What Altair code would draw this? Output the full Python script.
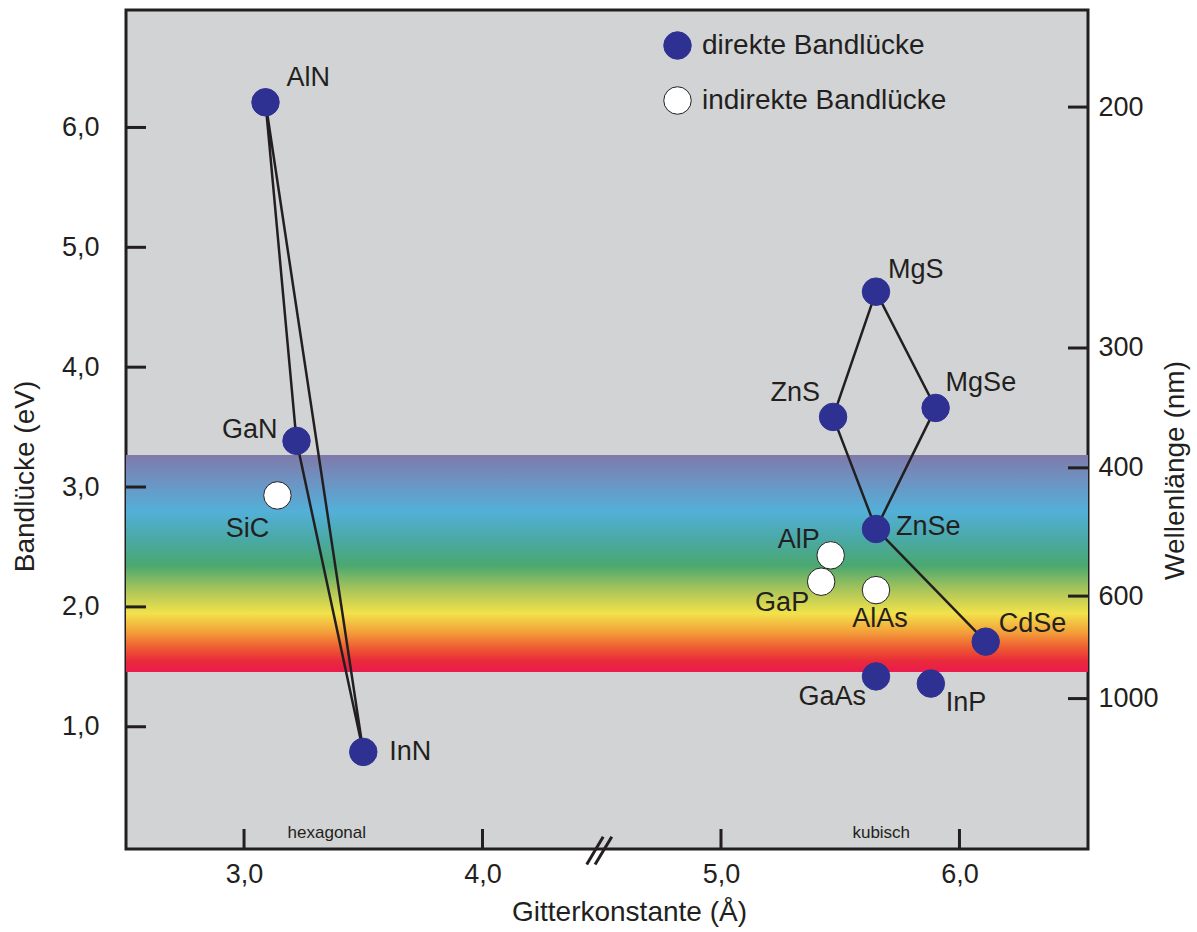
import altair as alt
import pandas as pd

# ---------------- data ----------------
names = ["AlN", "GaN", "InN", "SiC", "MgS", "ZnS", "MgSe", "ZnSe", "CdSe",
         "GaAs", "InP", "AlP", "GaP", "AlAs"]
lattice = [3.09, 3.22, 3.50, 3.14, 5.65, 5.47, 5.90, 5.65, 6.11,
           5.65, 5.88, 5.46, 5.42, 5.65]
gap = [6.21, 3.385, 0.79, 2.93, 4.63, 3.585, 3.66, 2.65, 1.71,
       1.42, 1.36, 2.43, 2.21, 2.14]
DIRECT = "direkte Bandlücke"
INDIRECT = "indirekte Bandlücke"
kinds = [DIRECT, DIRECT, DIRECT, INDIRECT, DIRECT, DIRECT, DIRECT, DIRECT, DIRECT,
         DIRECT, DIRECT, INDIRECT, INDIRECT, INDIRECT]

# connecting lines (paths through the compounds)
paths = {
    "hex": ["AlN", "GaN", "InN", "AlN"],
    "cub1": ["ZnS", "MgS", "MgSe", "ZnSe", "ZnS"],
    "cub2": ["ZnSe", "CdSe"],
}

x_ticks = [3, 4, 5, 6]
y_ticks = [1, 2, 3, 4, 5, 6]
wl_labels = [200, 300, 400, 600, 1000]
wl_ev = [6.17, 4.16, 3.16, 2.09, 1.235]

band_top_ev = 3.268
band_bottom_ev = 1.457

crystal_text = ["hexagonal", "kubisch"]
crystal_x = [3.347, 5.672]

# ---------------- styles ----------------
label_dx = [21, -19, 26, -30, 12, -13, 10, 20, 13, -10, 15, -11, -12, 4]
label_dy = [-24, -11, 0, 34, -22, -24, -25, -2, -18, 21, 19, -15, 21, 29]
label_align = ["left", "right", "left", "center", "left", "right", "left", "left",
               "left", "right", "left", "right", "right", "center"]

W, H = 962, 839
FONT = "Liberation Sans"
INK = "#231f20"
NAVY = "#2e3192"
BG = "#d1d3d4"
FS_LAB = 27     # axis tick labels
FS_TITLE = 28   # axis titles
FS_PT = 27      # compound labels
FS_LEG = 28

XDOM = [2.505, 6.539]
YDOM = [-0.02, 6.98]


def xs():
    return alt.Scale(domain=XDOM, nice=False, zero=False)


def ys():
    return alt.Scale(domain=YDOM, nice=False, zero=False)


comma_fmt = "replace(format(datum.value, '.1f'), '.', ',')"

x_axis = alt.Axis(
    values=x_ticks, labelExpr=comma_fmt, ticks=False, domain=False, grid=False,
    labelFont=FONT, labelFontSize=FS_LAB, labelColor=INK, labelPadding=12,
    title="Gitterkonstante (Å)", titleFont=FONT, titleFontSize=FS_TITLE,
    titleFontWeight="normal", titleColor=INK, titleX=503, titleY=63,
    titleBaseline="middle", titleAlign="center")
y_axis = alt.Axis(
    values=y_ticks, labelExpr=comma_fmt, ticks=False, domain=False, grid=False,
    labelFont=FONT, labelFontSize=FS_LAB, labelColor=INK, labelPadding=27,
    title="Bandlücke (eV)", titleFont=FONT, titleFontSize=FS_TITLE,
    titleFontWeight="normal", titleColor=INK, titleAngle=270,
    titleX=-101, titleY=466, titleBaseline="middle", titleAlign="center")


def X(field):
    return alt.X(field, scale=xs(), axis=x_axis)


def Y(field):
    return alt.Y(field, scale=ys(), axis=y_axis)


pts = pd.DataFrame({"name": names, "a": lattice, "eg": gap, "kind": kinds})
lookup = {n: (a, e) for n, a, e in zip(names, lattice, gap)}

rows = []
for g, seq in paths.items():
    for i, n in enumerate(seq):
        rows.append({"grp": g, "ord": i, "a": lookup[n][0], "eg": lookup[n][1]})
lines_df = pd.DataFrame(rows)

# ---------------- layers ----------------
stops = [
    (0.00, "#7f7aaa"), (0.12, "#6d93c2"), (0.26, "#53b0d8"), (0.39, "#4aa9a5"),
    (0.51, "#4aa870"), (0.62, "#a8c45a"), (0.73, "#f2e24b"), (0.81, "#f3a53a"),
    (0.89, "#ee5a32"), (0.95, "#e82a3a"), (1.00, "#ec1b4f"),
]
band = alt.Chart(pd.DataFrame({"a": [XDOM[0]], "a2": [XDOM[1]],
                               "eg": [band_top_ev], "eg2": [band_bottom_ev]})).mark_rect(
    fill=alt.Gradient(gradient="linear",
                      stops=[alt.GradientStop(offset=o, color=c) for o, c in stops],
                      x1=0, x2=0, y1=0, y2=1)
).encode(x=X("a:Q"), x2="a2", y=Y("eg:Q"), y2="eg2")

lines = alt.Chart(lines_df).mark_line(color=INK, strokeWidth=2.5).encode(
    x=X("a:Q"), y=Y("eg:Q"), detail="grp:N", order="ord:Q")

points = alt.Chart(pts).mark_circle(size=755, opacity=1, strokeWidth=1).encode(
    x=X("a:Q"), y=Y("eg:Q"),
    fill=alt.Fill("kind:N", scale=alt.Scale(domain=[DIRECT, INDIRECT], range=[NAVY, "#ffffff"]),
                  legend=alt.Legend(title=None, orient="none", legendX=537, legendY=21,
                                    symbolType="circle", symbolSize=755, symbolOpacity=1,
                                    symbolStrokeColor=INK, symbolStrokeWidth=1,
                                    labelFont=FONT, labelFontSize=FS_LEG, labelColor=INK,
                                    labelLimit=0, labelOffset=10, rowPadding=22, padding=0)),
    stroke=alt.Stroke("kind:N", scale=alt.Scale(domain=[DIRECT, INDIRECT], range=[NAVY, INK]),
                      legend=None),
)

label_layers = []
for n, dx, dy, al in zip(names, label_dx, label_dy, label_align):
    label_layers.append(
        alt.Chart(pts).transform_filter(alt.datum.name == n).mark_text(
            dx=dx, dy=dy, align=al, baseline="middle", font=FONT, fontSize=FS_PT, color=INK
        ).encode(x=X("a:Q"), y=Y("eg:Q"), text="name:N")
    )

xtick_layer = alt.Chart(pd.DataFrame({"a": x_ticks})).mark_rule(color=INK, strokeWidth=3).encode(
    x=X("a:Q"), y=alt.value(H - 20), y2=alt.value(H))
ytick_layer = alt.Chart(pd.DataFrame({"eg": y_ticks})).mark_rule(color=INK, strokeWidth=3).encode(
    y=Y("eg:Q"), x=alt.value(0), x2=alt.value(20))

brk = alt.Chart(pd.DataFrame({"a": [4.437, 4.472], "a2": [4.506, 4.542],
                              "eg": [-0.15, -0.15], "eg2": [0.083, 0.083]})).mark_rule(
    color=INK, strokeWidth=3).encode(x=X("a:Q"), x2="a2", y=Y("eg:Q"), y2="eg2")

crystal = alt.Chart(pd.DataFrame({"t": crystal_text, "a": crystal_x, "eg": [0.114, 0.114]})).mark_text(
    font=FONT, fontSize=17, color=INK, baseline="middle", align="center").encode(
    x=X("a:Q"), y=Y("eg:Q"), text="t:N")

main = alt.layer(band, lines, points, *label_layers, xtick_layer, ytick_layer, brk, crystal)

wl_expr = " : ".join(
    f"abs(datum.value - {e}) < 0.001 ? '{l}'" for e, l in zip(wl_ev, wl_labels)) + " : ''"

right = alt.Chart(pd.DataFrame({"ev": wl_ev})).mark_rule(color=INK, strokeWidth=3).encode(
    y=alt.Y("ev:Q", scale=ys(), axis=alt.Axis(
        orient="right", values=wl_ev, labelExpr=wl_expr, ticks=False, domain=False, grid=False,
        labelFont=FONT, labelFontSize=FS_LAB, labelColor=INK, labelPadding=10,
        title="Wellenlänge (nm)", titleFont=FONT, titleFontSize=FS_TITLE, titleFontWeight="normal",
        titleColor=INK, titleAngle=270, titleX=87, titleY=460,
        titleBaseline="middle", titleAlign="center")),
    x=alt.value(W - 20), x2=alt.value(W),
)

chart = alt.layer(main, right).resolve_scale(y="independent").properties(
    width=W, height=H,
    autosize=alt.AutoSizeParams(type="none"),
    padding={"left": 126, "top": 10, "right": 1197 - 126 - W, "bottom": 932 - 10 - H},
    background="white",
).configure_view(fill=BG, stroke=INK, strokeWidth=3)

chart.save("out.html", embed_options={"renderer": "svg", "actions": False})
